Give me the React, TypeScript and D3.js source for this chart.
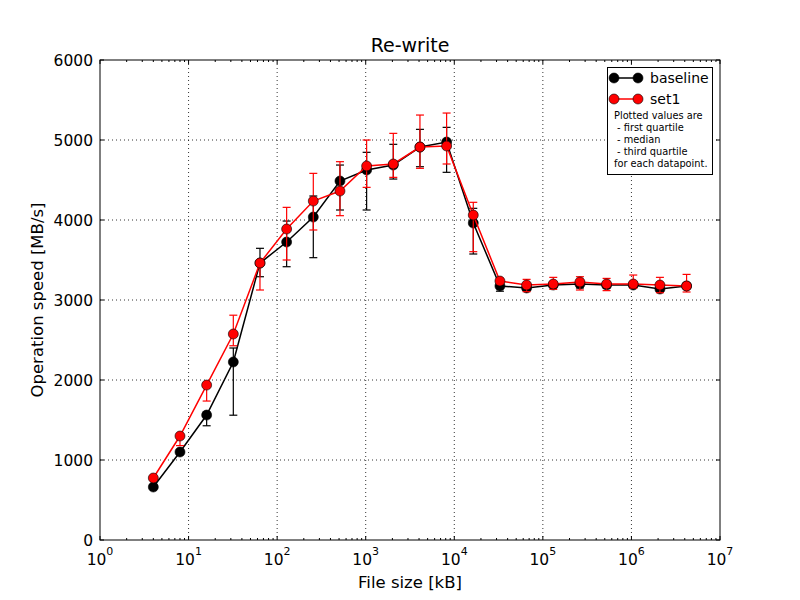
import React from "react";
import * as d3 from "d3";

const sizes = [4, 8, 16, 32, 64, 128, 256, 512, 1024, 2048, 4096, 8192, 16384, 32768, 65536, 131072, 262144, 524288, 1048576, 2097152, 4194304];

const baseMed = [662, 1100, 1562, 2225, 3462, 3725, 4037, 4487, 4625, 4687, 4912, 4975, 3962, 3175, 3150, 3187, 3200, 3187, 3187, 3137, 3175];
const baseQ1 = [650, 1070, 1428, 1560, 3291, 3416, 3529, 4125, 4125, 4512, 4666, 4596, 3575, 3110, 3120, 3160, 3150, 3150, 3160, 3110, 3140];
const baseQ3 = [690, 1125, 1600, 2400, 3646, 3987, 4300, 4687, 4846, 4946, 5133, 5158, 4146, 3210, 3190, 3220, 3240, 3220, 3230, 3170, 3210];

const setMed = [775, 1300, 1937, 2575, 3462, 3887, 4237, 4362, 4675, 4700, 4912, 4925, 4062, 3237, 3187, 3200, 3225, 3200, 3200, 3187, 3175];
const setQ1 = [760, 1180, 1737, 2428, 3125, 3500, 3875, 4054, 4408, 4533, 4646, 4700, 3604, 3200, 3104, 3133, 3125, 3117, 3145, 3091, 3100];
const setQ3 = [790, 1310, 1960, 2810, 3500, 4158, 4583, 4729, 5000, 5083, 5312, 5337, 4221, 3270, 3258, 3283, 3291, 3270, 3312, 3283, 3320];

const yTicks = [0, 1000, 2000, 3000, 4000, 5000, 6000];
const xDecades = [0, 1, 2, 3, 4, 5, 6, 7];
const legendNotes = ["Plotted values are", " - first quartile", " - median", " - third quartile", "for each datapoint."];

const L = 100, R = 720, T = 60, B = 540;
const font = "DejaVu Sans, sans-serif";

export default function App() {
  const x = d3.scaleLog().domain([1, 1e7]).range([L, R]);
  const y = d3.scaleLinear().domain([0, 6000]).range([B, T]);
  const line = d3.line<number>().x((_, i) => x(sizes[i])).y((d) => y(d));

  const minor: number[] = [];
  for (let e = 0; e < 7; e++) for (let m = 2; m <= 9; m++) minor.push(m * Math.pow(10, e));

  const series = [
    { med: baseMed, q1: baseQ1, q3: baseQ3, color: "#000000" },
    { med: setMed, q1: setQ1, q3: setQ3, color: "#ff0000" },
  ];

  return (
    <svg width={800} height={600} style={{ position: "absolute", left: 0, top: 0, background: "#fff" }} fontFamily={font}>
      <rect x={0} y={0} width={800} height={600} fill="#fff" />
      {/* grid */}
      {xDecades.slice(1, -1).map((e) => (
        <line key={"gx" + e} x1={x(Math.pow(10, e))} x2={x(Math.pow(10, e))} y1={T} y2={B} stroke="#000" strokeWidth={0.8} strokeDasharray="1,3" />
      ))}
      {yTicks.slice(1, -1).map((v) => (
        <line key={"gy" + v} x1={L} x2={R} y1={y(v)} y2={y(v)} stroke="#000" strokeWidth={0.8} strokeDasharray="1,3" />
      ))}
      {/* ticks */}
      {xDecades.map((e) => {
        const px = x(Math.pow(10, e));
        return (
          <g key={"xt" + e}>
            <line x1={px} x2={px} y1={B} y2={B - 4} stroke="#000" />
            <line x1={px} x2={px} y1={T} y2={T + 4} stroke="#000" />
            <text x={px} y={565} fontSize={15.5} textAnchor="middle">
              10<tspan dy={-10} fontSize={11}>{e}</tspan>
            </text>
          </g>
        );
      })}
      {minor.map((v) => (
        <g key={"mx" + v}>
          <line x1={x(v)} x2={x(v)} y1={B} y2={B - 2} stroke="#000" />
          <line x1={x(v)} x2={x(v)} y1={T} y2={T + 2} stroke="#000" />
        </g>
      ))}
      {yTicks.map((v) => (
        <g key={"yt" + v}>
          <line x1={L} x2={L + 4} y1={y(v)} y2={y(v)} stroke="#000" />
          <line x1={R} x2={R - 4} y1={y(v)} y2={y(v)} stroke="#000" />
          <text x={93} y={y(v) + 5.5} fontSize={15.5} textAnchor="end">{v}</text>
        </g>
      ))}
      {/* series */}
      {series.map((s, si) => (
        <g key={"s" + si}>
          <path d={line(s.med) || ""} fill="none" stroke={s.color} strokeWidth={1.5} />
          {sizes.map((sz, i) => {
            const px = x(sz);
            return (
              <g key={i} stroke={s.color} strokeWidth={1.2}>
                <line x1={px} x2={px} y1={y(s.q1[i])} y2={y(s.q3[i])} />
                <line x1={px - 4} x2={px + 4} y1={y(s.q1[i])} y2={y(s.q1[i])} />
                <line x1={px - 4} x2={px + 4} y1={y(s.q3[i])} y2={y(s.q3[i])} />
              </g>
            );
          })}
          {sizes.map((sz, i) => (
            <circle key={"c" + i} cx={x(sz)} cy={y(s.med[i])} r={5} fill={s.color} stroke="#000" strokeWidth={0.6} />
          ))}
        </g>
      ))}
      {/* frame */}
      <rect x={L} y={T} width={R - L} height={B - T} fill="none" stroke="#000" strokeWidth={1} />
      {/* labels */}
      <text x={410} y={52} fontSize={19} textAnchor="middle">Re-write</text>
      <text x={410} y={588} fontSize={16.5} textAnchor="middle">File size [kB]</text>
      <text transform={`translate(43,${(T + B) / 2}) rotate(-90)`} fontSize={16.5} textAnchor="middle">Operation speed [MB/s]</text>
      {/* legend */}
      <g>
        <rect x={607.5} y={67.5} width={105} height={107} fill="#fff" stroke="#000" strokeWidth={1} />
        <line x1={614} x2={638} y1={78} y2={78} stroke="#000" strokeWidth={1.5} />
        <circle cx={614} cy={78} r={5} fill="#000" stroke="#000" strokeWidth={0.6} />
        <circle cx={638} cy={78} r={5} fill="#000" stroke="#000" strokeWidth={0.6} />
        <text x={650} y={83} fontSize={14}>baseline</text>
        <line x1={614} x2={638} y1={99} y2={99} stroke="#ff0000" strokeWidth={1.5} />
        <circle cx={614} cy={99} r={5} fill="#ff0000" stroke="#000" strokeWidth={0.6} />
        <circle cx={638} cy={99} r={5} fill="#ff0000" stroke="#000" strokeWidth={0.6} />
        <text x={650} y={104} fontSize={14}>set1</text>
        {legendNotes.map((t, i) => (
          <text key={i} x={614} y={119 + i * 12} fontSize={9.8} style={{ whiteSpace: "pre" }}>{t}</text>
        ))}
      </g>
    </svg>
  );
}
